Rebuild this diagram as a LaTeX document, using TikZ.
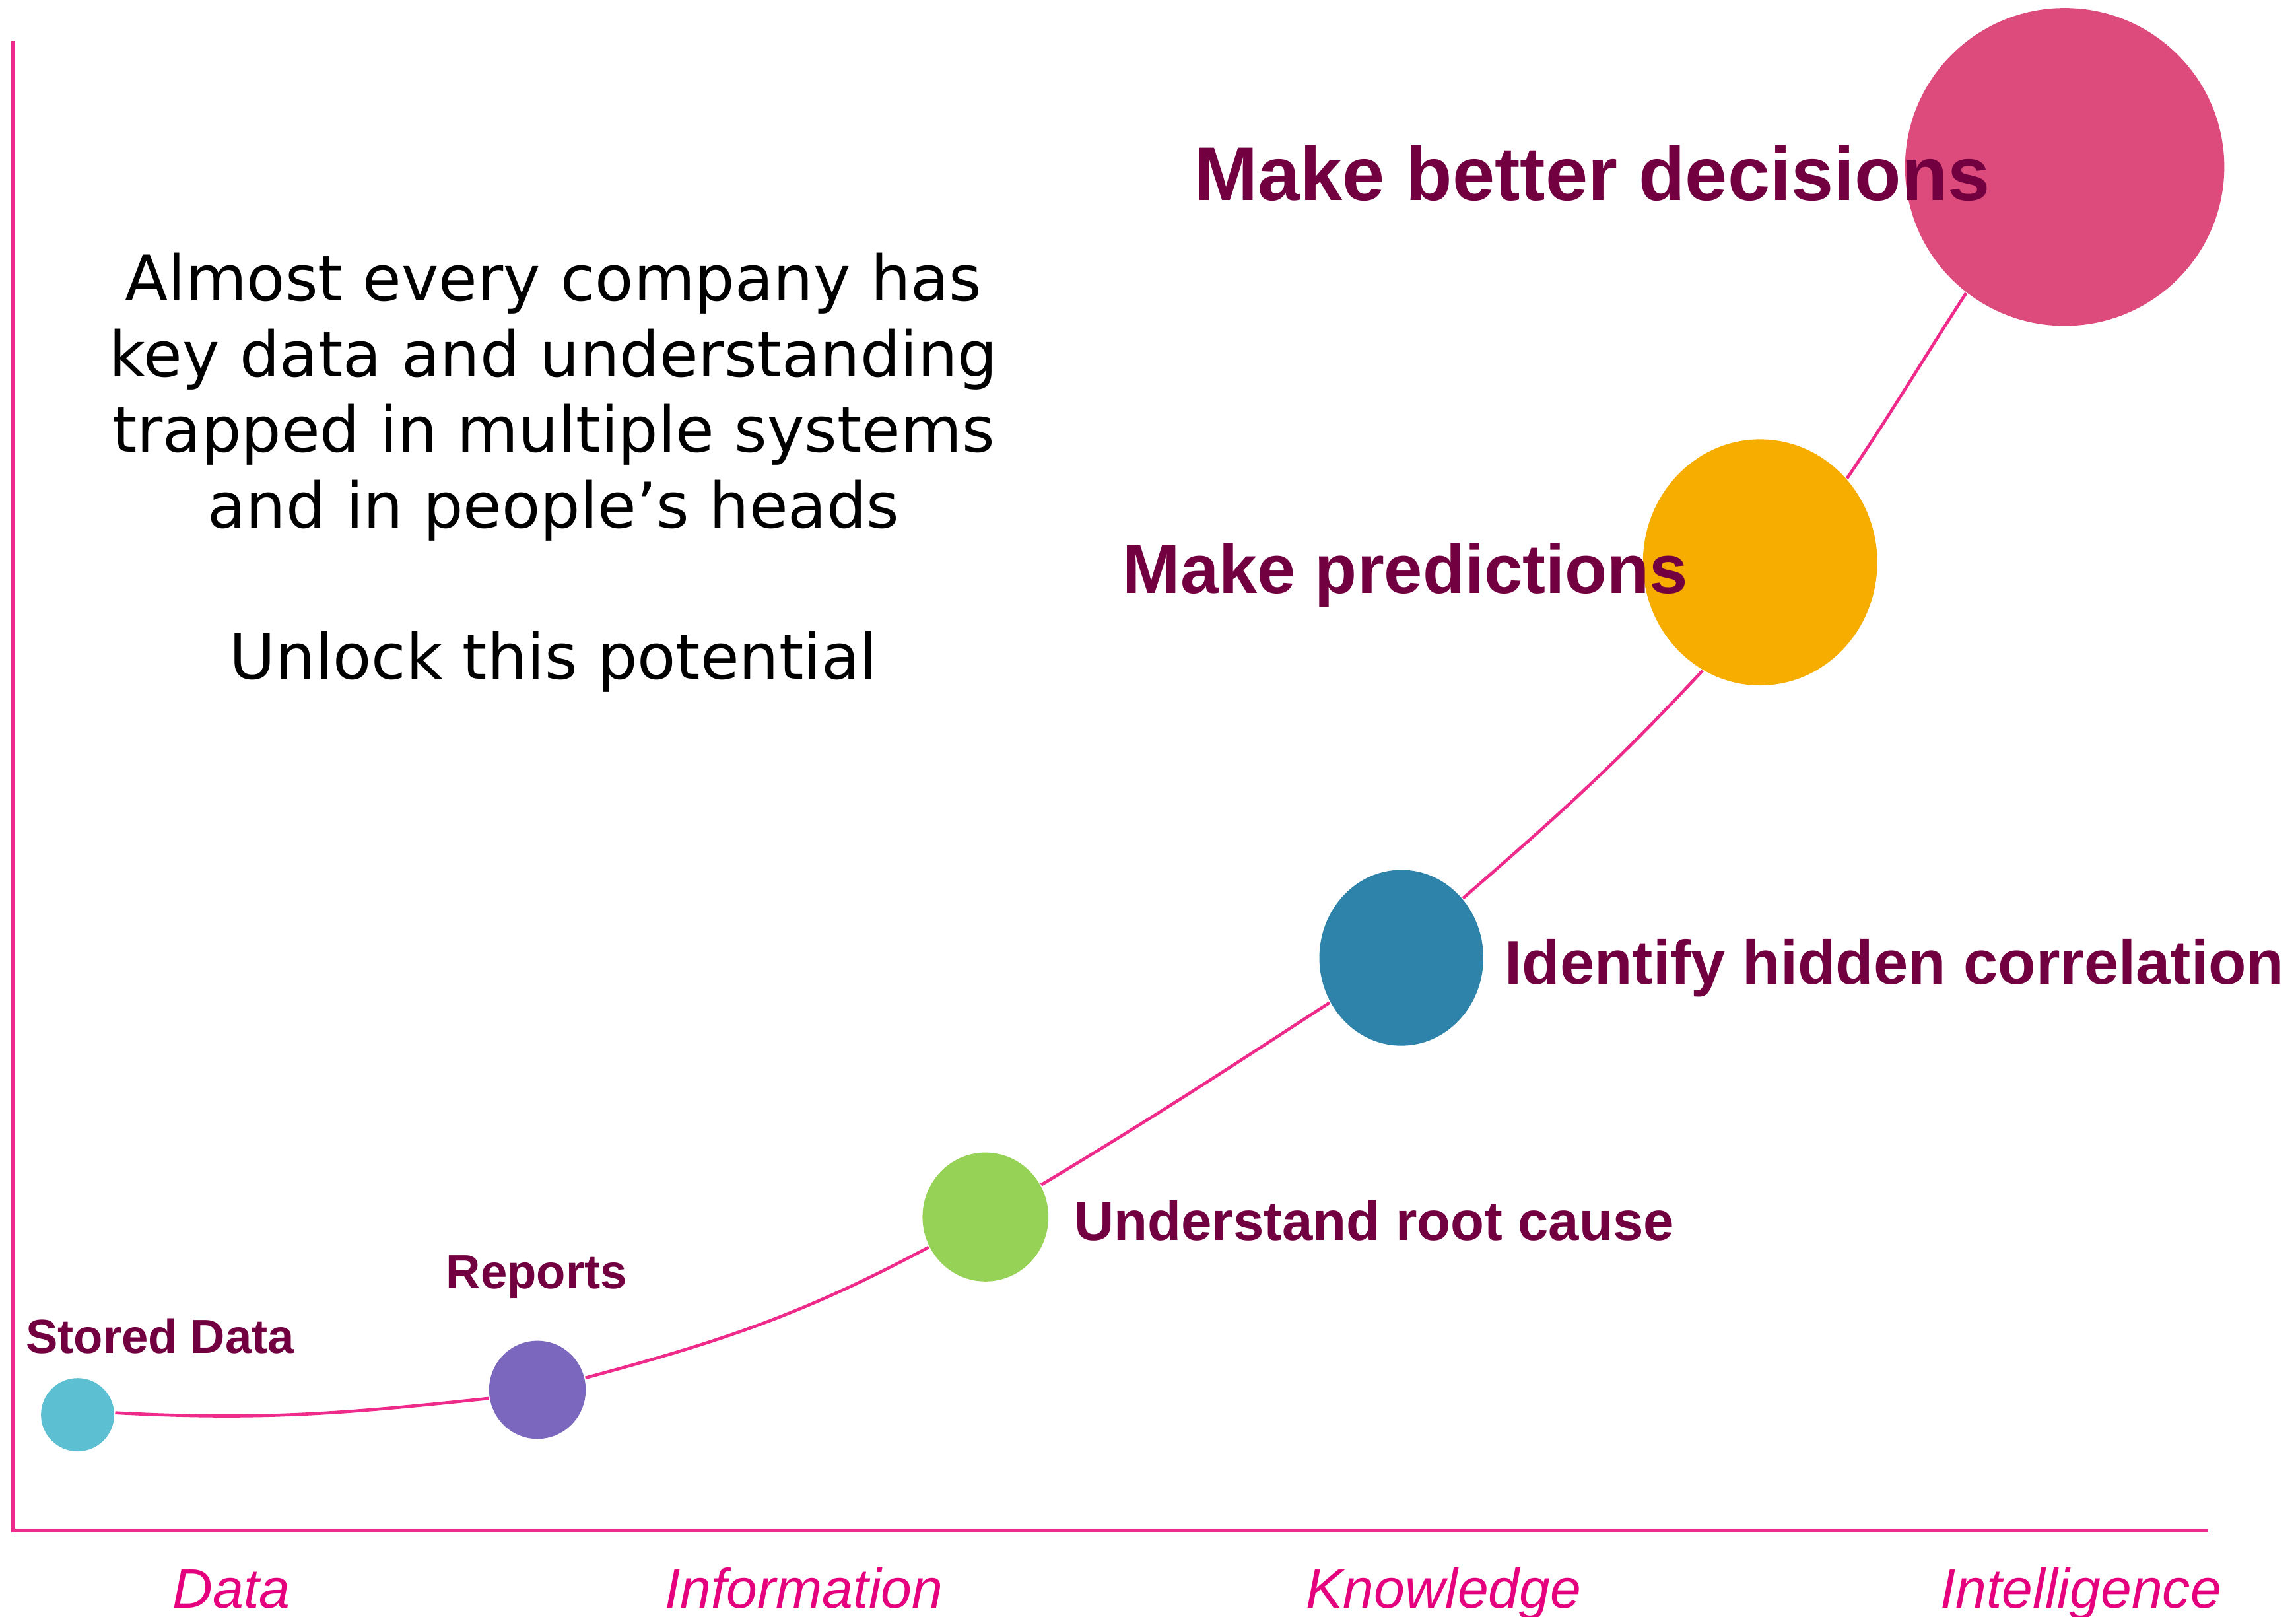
\documentclass[tikz,border=0pt]{standalone}
\usepackage{fontspec}
\setmainfont{Liberation Sans}
\newfontfamily\verdana{DejaVu Sans}
\usetikzlibrary{shapes.geometric}

\definecolor{linepink}{HTML}{EE2A8B}
\definecolor{axislabel}{HTML}{E5007D}
\definecolor{darkwine}{HTML}{720040}
\definecolor{stepcyan}{HTML}{5DC0D2}
\definecolor{steppurple}{HTML}{7B68BE}
\definecolor{stepgreen}{HTML}{96D255}
\definecolor{stepblue}{HTML}{2E83AB}
\definecolor{steporange}{HTML}{F7AD00}
\definecolor{steprose}{HTML}{DD4B7C}

\begin{document}
\begin{tikzpicture}[blob/.style={ellipse,inner sep=0pt,draw=none},
        step label/.style={anchor=base west,inner sep=0pt,text=darkwine,font=\bfseries},
        axis label/.style={anchor=base,inner sep=0pt,text=axislabel,font=\itshape\fontsize{10.8}{13}\selectfont}]
        \useasboundingbox (0,0) rectangle (15.68,11.04);

        % axes
        \coordinate (ytop) at (0.09, 10.76);
        \coordinate (origin) at (0.09, 0.59);
        \coordinate (xend) at (15.08, 0.59);
        \draw[linepink, line width=0.7pt] (ytop) -- (origin) -- (xend);

        % the steps
        \node[blob, fill=stepcyan, minimum width=0.50cm, minimum height=0.50cm] at (0.53, 1.38) (stored) {};
        \node[blob, fill=steppurple, minimum width=0.66cm, minimum height=0.67cm] at (3.67, 1.55) (reports) {};
        \node[blob, fill=stepgreen, minimum width=0.86cm, minimum height=0.88cm] at (6.73, 2.73) (cause) {};
        \node[blob, fill=stepblue, minimum width=1.12cm, minimum height=1.20cm] at (9.57, 4.50) (hidden) {};
        \node[blob, fill=steporange, minimum width=1.60cm, minimum height=1.68cm] at (12.02, 7.20) (predict) {};
        \node[blob, fill=steprose, minimum width=2.18cm, minimum height=2.17cm] at (14.10, 9.90) (decide) {};

        \path[draw=linepink, line width=0.6pt]
            (stored.3) edge[out=-3, in=186] (reports.190)
            (reports.14) edge[out=15, in=208] (cause.208)
            (cause.30) edge[out=31, in=213] (hidden.212)
            (hidden.44) edge[out=41, in=227] (predict.242)
            (predict.44) edge[out=56, in=237] (decide.232)
            ;

        % labels
        \node[step label, font=\bfseries\fontsize{9.3}{11}\selectfont] at (0.17, 1.80) (storedtxt) {Stored Data};
        \node[step label, font=\bfseries\fontsize{9.3}{11}\selectfont] at (3.04, 2.24) (reportstxt) {Reports};
        \node[step label, font=\bfseries\fontsize{10.7}{13}\selectfont] at (7.33, 2.57) (causetxt) {Understand root cause};
        \node[step label, font=\bfseries\fontsize{12.06}{14}\selectfont] at (10.27, 4.32) (hiddentxt) {Identify hidden correlation};
        \node[step label, font=\bfseries\fontsize{13.45}{16}\selectfont] at (7.66, 6.99) (predicttxt) {Make predictions};
        \node[step label, font=\bfseries\fontsize{14.8}{18}\selectfont] at (8.15, 9.67) (decidetxt) {Make better decisions};

        \node[anchor=north, inner sep=0pt, align=center, font=\verdana\fontsize{12.23}{14.7}\selectfont] at (3.78, 9.32) (pitch)
            {Almost every company has\\key data and understanding\\trapped in multiple systems\\and in people’s heads\\[14.7pt]Unlock this potential};

        \node[axis label] at (1.58, 0.06) (data) {Data};
        \node[axis label] at (5.49, 0.06) (info) {Information};
        \node[axis label] at (9.86, 0.06) (know) {Knowledge};
        \node[axis label] at (14.21, 0.06) (intel) {Intelligence};
    \end{tikzpicture}
\end{document}
